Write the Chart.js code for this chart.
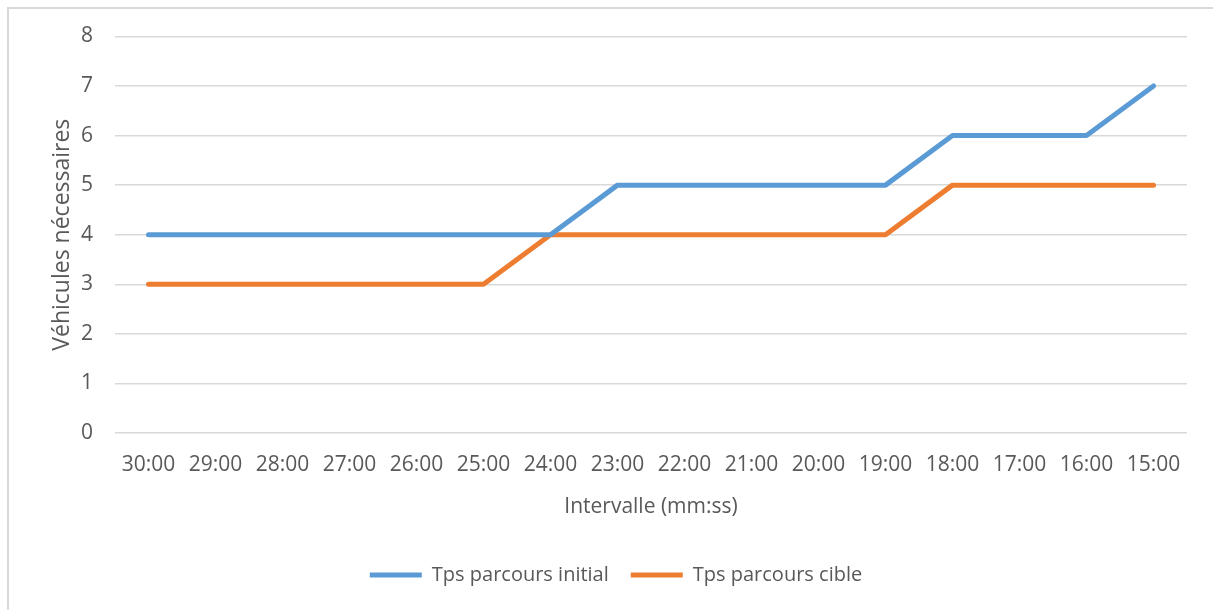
<!DOCTYPE html>
<html>
<head>
<meta charset="utf-8">
<script src="https://cdn.jsdelivr.net/npm/chart.js@4"></script>
<style>
    html, body { margin: 0; padding: 0; background: #fff; overflow: hidden; }
    #frame {
        position: absolute; left: 7px; top: 7px;
        width: 1230px; height: 630px;
        border: 2px solid #d9d9d9;
    }
    #wrap { position: absolute; left: 0; top: 0; width: 1213px; height: 610px; }
</style>
</head>
<body>
<div id="frame"></div>
<div id="wrap"><canvas id="vehicules"></canvas></div>
<script>
// intervalles (mm:ss)
const intervalles = [
    "30:00", "29:00", "28:00", "27:00", "26:00", "25:00", "24:00", "23:00",
    "22:00", "21:00", "20:00", "19:00", "18:00", "17:00", "16:00", "15:00",
];
const tpsInitial = [4, 4, 4, 4, 4, 4, 4, 5, 5, 5, 5, 5, 6, 6, 6, 7];
const tpsCible = [3, 3, 3, 3, 3, 3, 4, 4, 4, 4, 4, 4, 5, 5, 5, 5];
const yTicks = [0, 1, 2, 3, 4, 5, 6, 7, 8];

const gris = "#595959";
const police = "'Open Sans', sans-serif";

new Chart(document.getElementById("vehicules"), {
    type: "line",
    data: {
        labels: intervalles,
        datasets: [
            {
                label: "Tps parcours initial",
                data: tpsInitial,
                borderColor: "#5b9bd5",
                backgroundColor: "#5b9bd5",
                borderWidth: 5,
                borderCapStyle: "round",
                borderJoinStyle: "round",
                pointRadius: 0,
                tension: 0,
            },
            {
                label: "Tps parcours cible",
                data: tpsCible,
                borderColor: "#ed7d31",
                backgroundColor: "#ed7d31",
                borderWidth: 5,
                borderCapStyle: "round",
                borderJoinStyle: "round",
                pointRadius: 0,
                tension: 0,
            },
        ],
    },
    options: {
        responsive: true,
        maintainAspectRatio: false,
        animation: false,
        layout: { padding: { left: 45, right: 26, top: 36.4, bottom: 15 } },
        plugins: {
            tooltip: { enabled: false },
            legend: {
                position: "bottom",
                labels: {
                    color: gris,
                    font: { family: police, size: 20 },
                    usePointStyle: true,
                    pointStyle: "line",
                    pointStyleWidth: 52,
                    padding: 22,
                },
            },
        },
        scales: {
            x: {
                offset: true,
                grid: { display: false },
                border: { display: false },
                ticks: {
                    color: gris,
                    font: { family: police, size: 21 },
                    padding: 11,
                    maxRotation: 0,
                    autoSkip: false,
                },
                title: {
                    display: true,
                    text: "Intervalle (mm:ss)",
                    color: gris,
                    font: { family: police, size: 21 },
                    padding: { top: 6, bottom: 23.6 },
                },
            },
            y: {
                min: 0,
                max: 8,
                afterFit: (scale) => { scale.width = 70; },
                afterBuildTicks: (scale) => {
                    scale.ticks = yTicks.map((v) => ({ value: v }));
                },
                grid: { color: "#d9d9d9", lineWidth: 1.5, drawTicks: false },
                border: { display: false },
                ticks: {
                    color: gris,
                    font: { family: police, size: 21 },
                    padding: 22,
                },
                title: {
                    display: true,
                    text: "Véhicules nécessaires",
                    color: gris,
                    font: { family: police, size: 23 },
                    padding: { top: 4, bottom: 0 },
                },
            },
        },
    },
});
</script>
</body>
</html>
